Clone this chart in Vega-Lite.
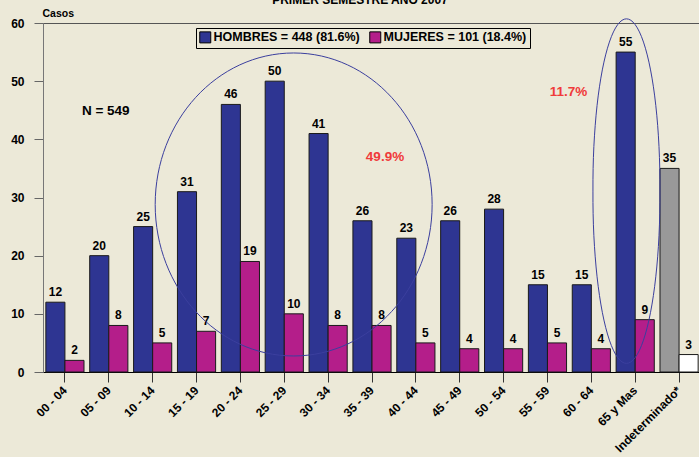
{
  "$schema": "https://vega.github.io/schema/vega-lite/v6.json",
  "width": 658,
  "height": 349,
  "autosize": {"type": "none"},
  "padding": {"left": 43, "top": 23, "right": 0, "bottom": 85},
  "background": "#ECE9D8",
  "config": {
    "view": {"stroke": "#555555", "strokeWidth": 1},
    "font": "Liberation Sans"
  },
  "title": {
    "text": "PRIMER SEMESTRE AÑO 2007",
    "font": "Liberation Sans",
    "fontSize": 12,
    "fontWeight": "bold",
    "color": "#000000",
    "anchor": "middle",
    "frame": "group",
    "baseline": "alphabetic",
    "dx": -12,
    "offset": -8
  },
  "datasets": {
    "casos": [
      {"edad": "00 - 04", "sexo": "HOMBRES", "casos": 12},
      {"edad": "00 - 04", "sexo": "MUJERES", "casos": 2},
      {"edad": "05 - 09", "sexo": "HOMBRES", "casos": 20},
      {"edad": "05 - 09", "sexo": "MUJERES", "casos": 8},
      {"edad": "10 - 14", "sexo": "HOMBRES", "casos": 25},
      {"edad": "10 - 14", "sexo": "MUJERES", "casos": 5},
      {"edad": "15 - 19", "sexo": "HOMBRES", "casos": 31},
      {"edad": "15 - 19", "sexo": "MUJERES", "casos": 7},
      {"edad": "20 - 24", "sexo": "HOMBRES", "casos": 46},
      {"edad": "20 - 24", "sexo": "MUJERES", "casos": 19},
      {"edad": "25 - 29", "sexo": "HOMBRES", "casos": 50},
      {"edad": "25 - 29", "sexo": "MUJERES", "casos": 10},
      {"edad": "30 - 34", "sexo": "HOMBRES", "casos": 41},
      {"edad": "30 - 34", "sexo": "MUJERES", "casos": 8},
      {"edad": "35 - 39", "sexo": "HOMBRES", "casos": 26},
      {"edad": "35 - 39", "sexo": "MUJERES", "casos": 8},
      {"edad": "40 - 44", "sexo": "HOMBRES", "casos": 23},
      {"edad": "40 - 44", "sexo": "MUJERES", "casos": 5},
      {"edad": "45 - 49", "sexo": "HOMBRES", "casos": 26},
      {"edad": "45 - 49", "sexo": "MUJERES", "casos": 4},
      {"edad": "50 - 54", "sexo": "HOMBRES", "casos": 28},
      {"edad": "50 - 54", "sexo": "MUJERES", "casos": 4},
      {"edad": "55 - 59", "sexo": "HOMBRES", "casos": 15},
      {"edad": "55 - 59", "sexo": "MUJERES", "casos": 5},
      {"edad": "60 - 64", "sexo": "HOMBRES", "casos": 15},
      {"edad": "60 - 64", "sexo": "MUJERES", "casos": 4},
      {"edad": "65 y Mas", "sexo": "HOMBRES", "casos": 55},
      {"edad": "65 y Mas", "sexo": "MUJERES", "casos": 9},
      {"edad": "Indeterminado*", "sexo": "HOMBRES", "casos": 35},
      {"edad": "Indeterminado*", "sexo": "MUJERES", "casos": 3}
    ]
  },
  "layer": [
    {
      "data": {"name": "casos"},
      "mark": {"type": "bar", "stroke": "#1a1a1a", "strokeWidth": 1},
      "encoding": {
        "x": {
          "field": "edad", "type": "nominal", "sort": null,
          "scale": {"paddingInner": 0.13, "paddingOuter": 0.065},
          "axis": {
            "title": null, "labelAngle": -45, "labelAlign": "right", "labelBaseline": "middle",
            "labelFont": "Liberation Sans", "labelFontSize": 12, "labelFontWeight": "bold",
            "labelColor": "#000000", "labelPadding": 6, "labelOverlap": false, "labelBound": false,
            "tickSize": 10, "tickColor": "#333333", "domainColor": "#000000"
          }
        },
        "xOffset": {"field": "sexo", "type": "nominal", "scale": {"domain": ["HOMBRES", "MUJERES"], "paddingInner": 0, "paddingOuter": 0}},
        "y": {
          "field": "casos", "type": "quantitative",
          "scale": {"domain": [0, 60]},
          "axis": {
            "title": "Casos", "titleAngle": 0, "titleAlign": "left", "titleBaseline": "alphabetic",
            "titleX": -1, "titleY": -7, "titleFont": "Liberation Sans", "titleFontSize": 10.5,
            "titleFontWeight": "bold", "titleColor": "#000000",
            "values": [0, 10, 20, 30, 40, 50, 60], "grid": false,
            "tickSize": 9, "tickColor": "#666666", "domainColor": "#777777",
            "labelPadding": 10, "labelFont": "Liberation Sans", "labelFontSize": 12,
            "labelFontWeight": "bold", "labelColor": "#000000"
          }
        },
        "color": {
          "condition": [
            {"test": "datum.edad === 'Indeterminado*' && datum.sexo === 'HOMBRES'", "value": "#999999"},
            {"test": "datum.edad === 'Indeterminado*'", "value": "#FFFFFF"}
          ],
          "field": "sexo", "type": "nominal",
          "scale": {"domain": ["HOMBRES", "MUJERES"], "range": ["#2E3592", "#B41E8A"]},
          "legend": {
            "title": null, "orient": "none", "legendX": 153, "legendY": 5, "direction": "horizontal",
            "symbolType": "square", "symbolSize": 121, "symbolStrokeColor": "#000000", "symbolStrokeWidth": 1,
            "symbolOpacity": 1,
            "labelFont": "Liberation Sans", "labelFontSize": 12.5, "labelFontWeight": "bold", "labelColor": "#000000",
            "labelOffset": 2, "columnPadding": 7, "padding": 3,
            "strokeColor": "#000000", "fillColor": "#ECE9D8",
            "labelExpr": "datum.label === 'HOMBRES' ? 'HOMBRES = 448 (81.6%)' : 'MUJERES = 101 (18.4%)'"
          }
        }
      }
    },
    {
      "data": {"name": "casos"},
      "mark": {"type": "text", "font": "Liberation Sans", "fontSize": 12, "fontWeight": "bold", "color": "#000000", "baseline": "alphabetic", "dy": -6},
      "encoding": {
        "x": {"field": "edad", "type": "nominal", "sort": null},
        "xOffset": {"field": "sexo", "type": "nominal"},
        "y": {"field": "casos", "type": "quantitative"},
        "text": {"field": "casos", "type": "quantitative"}
      }
    },
    {
      "data": {"values": [{"edad": "25 - 29", "casos": 28.8}]},
      "mark": {"type": "point", "shape": "M -0.852 0 A 0.914 1 0 1 1 0.976 0 A 0.914 1 0 1 1 -0.852 0 Z", "size": 91809, "filled": false, "stroke": "#3B3F9E", "strokeWidth": 1, "opacity": 1},
      "encoding": {
        "x": {"field": "edad", "type": "nominal", "sort": null},
        "y": {"field": "casos", "type": "quantitative"}
      }
    },
    {
      "data": {"values": [{"edad": "65 y Mas", "casos": 31.1}]},
      "mark": {"type": "point", "shape": "M -0.253 0 A 0.2006 1 0 1 1 0.148 0 A 0.2006 1 0 1 1 -0.253 0 Z", "size": 111556, "filled": false, "stroke": "#3B3F9E", "strokeWidth": 1, "opacity": 1},
      "encoding": {
        "x": {"field": "edad", "type": "nominal", "sort": null},
        "y": {"field": "casos", "type": "quantitative"}
      }
    },
    {
      "data": {"values": [{"edad": "05 - 09", "casos": 44.1, "texto": "N = 549"}]},
      "mark": {"type": "text", "font": "Liberation Sans", "fontSize": 13.5, "fontWeight": "bold", "color": "#000000", "baseline": "alphabetic", "align": "center", "dx": -3},
      "encoding": {
        "x": {"field": "edad", "type": "nominal", "sort": null},
        "y": {"field": "casos", "type": "quantitative"},
        "text": {"field": "texto"}
      }
    },
    {
      "data": {"values": [{"edad": "35 - 39", "casos": 36.2, "texto": "49.9%"}]},
      "mark": {"type": "text", "font": "Liberation Sans", "fontSize": 13.5, "fontWeight": "bold", "color": "#F03A3A", "baseline": "alphabetic", "align": "center", "dx": 13},
      "encoding": {
        "x": {"field": "edad", "type": "nominal", "sort": null},
        "y": {"field": "casos", "type": "quantitative"},
        "text": {"field": "texto"}
      }
    },
    {
      "data": {"values": [{"edad": "55 - 59", "casos": 47.4, "texto": "11.7%"}]},
      "mark": {"type": "text", "font": "Liberation Sans", "fontSize": 13.5, "fontWeight": "bold", "color": "#F03A3A", "baseline": "alphabetic", "align": "center", "dx": 21},
      "encoding": {
        "x": {"field": "edad", "type": "nominal", "sort": null},
        "y": {"field": "casos", "type": "quantitative"},
        "text": {"field": "texto"}
      }
    }
  ]
}
